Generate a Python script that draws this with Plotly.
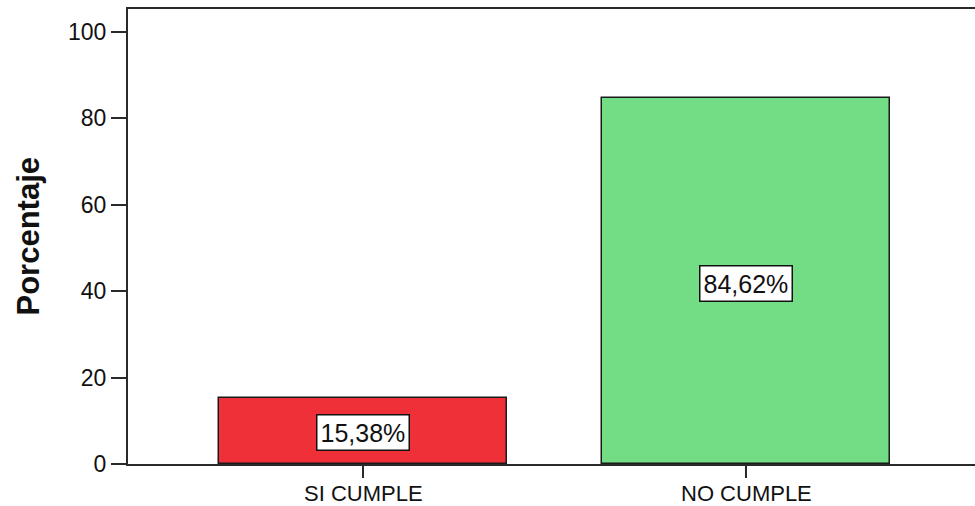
import plotly.graph_objects as go

# Cumplimiento: porcentaje por categoría
categorias = ["SI CUMPLE", "NO CUMPLE"]
porcentajes = [15.38, 84.62]
colores = ["#EF3038", "#72DD84"]
etiquetas = ["15,38%", "84,62%"]
ticks_y = [0, 20, 40, 60, 80, 100]

FONT = "Liberation Sans, Arial, sans-serif"
AXIS_COLOR = "#2a2a2a"

fig = go.Figure(
    go.Bar(
        x=[0, 1],
        y=porcentajes,
        width=0.752,
        marker=dict(color=colores, line=dict(color="#1a1a1a", width=1.5)),
        hoverinfo="skip",
    )
)

# Value labels inside each bar, placed at half its height
for i, (v, t) in enumerate(zip(porcentajes, etiquetas)):
    fig.add_annotation(
        x=i, y=v / 2, xref="x", yref="y", text=t, showarrow=False,
        font=dict(family=FONT, size=25, color="#111"),
        bgcolor="white", bordercolor="#111", borderwidth=1.5, borderpad=3,
        yshift=-2,
    )

# Category labels under the x axis ticks
for i, c in enumerate(categorias):
    fig.add_annotation(
        x=i, y=0, xref="x", yref="paper", text=c, showarrow=False,
        xanchor="center", yanchor="top", yshift=-15,
        font=dict(family=FONT, size=22, color="#111"),
    )

# Y axis title
fig.add_annotation(
    x=0, y=0.5, xref="paper", yref="paper", xshift=-100,
    xanchor="center", yanchor="middle",
    text="<b>Porcentaje</b>", textangle=-90, showarrow=False,
    font=dict(family=FONT, size=31, color="#111"),
)

fig.update_layout(
    width=975, height=506,
    margin=dict(l=128, r=0, t=9, b=42),
    paper_bgcolor="white", plot_bgcolor="white",
    showlegend=False,
    bargap=0,
    xaxis=dict(
        range=[-0.614, 1.598],
        tickmode="array", tickvals=[0, 1], showticklabels=False,
        ticks="outside", ticklen=12, tickwidth=2, tickcolor=AXIS_COLOR,
        showline=True, linecolor=AXIS_COLOR, linewidth=2, mirror=True,
        showgrid=False, zeroline=False, automargin=False,
    ),
    yaxis=dict(
        range=[0, 105.3],
        tickmode="array", tickvals=ticks_y,
        ticks="outside", ticklen=15, tickwidth=2, tickcolor=AXIS_COLOR,
        showline=True, linecolor=AXIS_COLOR, linewidth=2,
        showgrid=False, zeroline=False, automargin=False,
        tickfont=dict(family=FONT, size=23, color="#111"),
    ),
)

fig.write_html("out.html")
